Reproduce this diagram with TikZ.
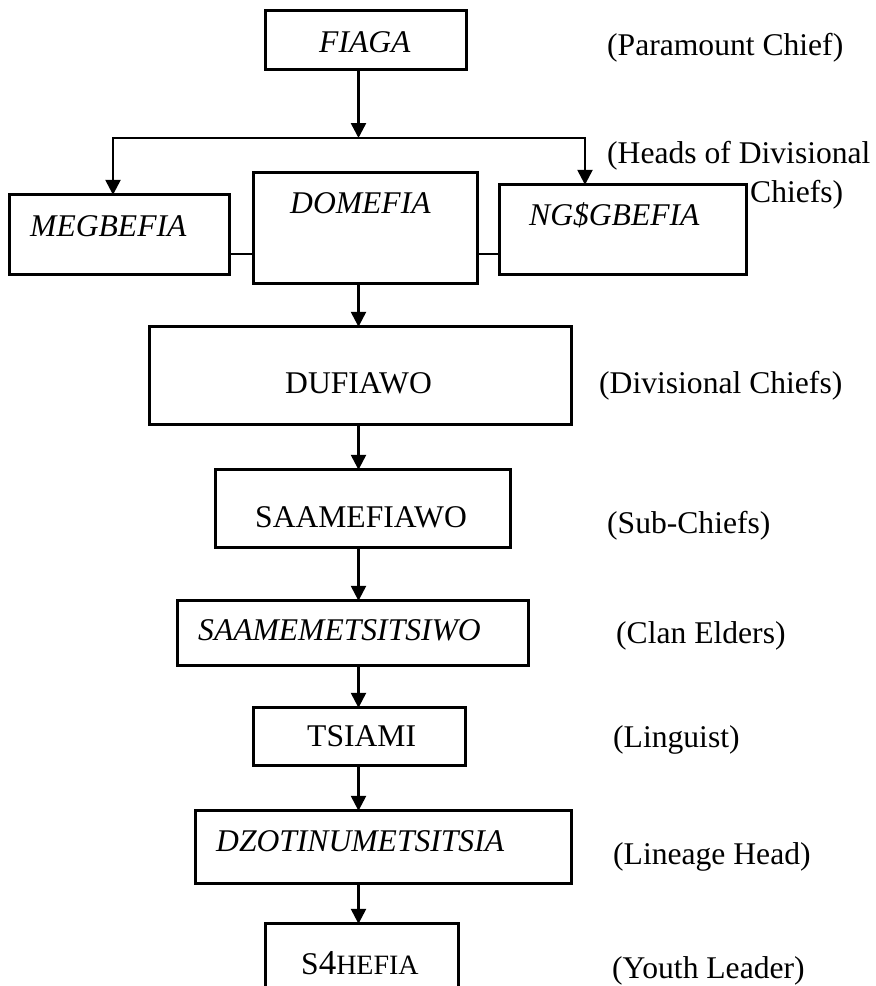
\documentclass[tikz,border=0pt]{standalone}
\usepackage{fontspec}
\setmainfont{Liberation Serif}
\usetikzlibrary{arrows.meta}
\begin{document}
\begin{tikzpicture}[x=1pt,y=-1pt,
  every node/.style={font=\fontsize{31.6}{38}\selectfont},
  place/.style={inner sep=0pt, minimum width=#1},
  place/.default=100pt,
  frame/.style={draw=black, line width=2.7pt},
  txt/.style={inner sep=0pt, anchor=base west},
  link/.style={line width=2.5pt},
  tip/.tip={Triangle[length=15pt,width=15pt]},
  arr/.style={line width=2.5pt, -tip},
  arrboth/.style={line width=2.5pt, tip-tip}]
\useasboundingbox (0,0) rectangle (876,986);
\clip (0,0) rectangle (876,986);

% boxes of the hierarchy
\node[place=200pt, minimum height=58pt] (fiaga) at (366,40) {};
\node[place=219pt, minimum height=79pt] (meg) at (119.5,234.5) {};
\node[place=223pt, minimum height=110pt] (dom) at (365.5,228) {};
\node[place=246pt, minimum height=89pt] (ngo) at (623,229.5) {};
\node[place=421pt, minimum height=97pt] (duf) at (360.5,375.5) {};
\node[place=294pt, minimum height=77pt] (sub) at (363,508.5) {};
\node[place=350.5pt, minimum height=64pt] (clan) at (353.25,633) {};
\node[place=211pt, minimum height=57pt] (tsi) at (359.5,736.5) {};
\node[place=375pt, minimum height=72pt] (dzo) at (383.5,847) {};
\node[place=192pt, minimum height=76pt] (yth) at (362,962) {};
\foreach \b in {fiaga,meg,dom,ngo,duf,sub,clan,tsi,dzo,yth}
  \draw[frame] (\b.south west) rectangle (\b.north east);

% texts inside the boxes
\node[txt] (t-fiaga) at (319,52) {\textit{FIAGA}};
\node[txt] (t-meg) at (30,236) {\textit{MEGBEFIA}};
\node[txt] (t-dom) at (290,213) {\textit{DOMEFIA}};
\node[txt] (t-ngo) at (529,225) {\textit{NG\$GBEFIA}};
\node[txt] (t-duf) at (285,393) {DUFIAWO};
\node[txt] (t-sub) at (255,527) {SAAMEFIAWO};
\node[txt] (t-clan) at (198,640) {\textit{SAAMEMETSITSIWO}};
\node[txt] (t-tsi) at (307,746) {TSIAMI};
\node[txt] (t-dzo) at (216,851) {\textit{DZOTINUMETSITSIA}};
\node[txt] (t-yth) at (301,974) {S{\fontsize{35}{40}\selectfont 4}{\fontsize{28}{32}\selectfont HEFIA}};

% English glosses on the right
\node[txt] (g-para) at (607,55) {(Paramount Chief)};
\node[txt] (g-heads) at (607,163) {(Heads of Divisional};
\node[txt] (g-heads2) at (750,202) {Chiefs)};
\node[txt] (g-div) at (599,393) {(Divisional Chiefs)};
\node[txt] (g-sub) at (607,533) {(Sub-Chiefs)};
\node[txt] (g-clan) at (616,643) {(Clan Elders)};
\node[txt] (g-ling) at (613,747) {(Linguist)};
\node[txt] (g-lin) at (613,864) {(Lineage Head)};
\node[txt] (g-yth) at (612,978) {(Youth Leader)};

% connectors
\coordinate (trunk) at (358.5,0);
\coordinate (busl) at (113,138);
\coordinate (busr) at (585,138);
\draw[arr] (trunk |- fiaga.south) -- (trunk |- busl);
\draw[arrboth] (busl |- meg.north) -- (busl) -- (busr) -- (busr |- ngo.north);
\draw[link] (meg.east |- 0,254) -- (dom.west |- 0,254);
\draw[link] (dom.east |- 0,254) -- (ngo.west |- 0,254);
\draw[arr] (trunk |- dom.south) -- (trunk |- duf.north);
\draw[arr] (trunk |- duf.south) -- (trunk |- sub.north);
\draw[arr] (trunk |- sub.south) -- (trunk |- clan.north);
\draw[arr] (trunk |- clan.south) -- (trunk |- tsi.north);
\draw[arr] (trunk |- tsi.south) -- (trunk |- dzo.north);
\draw[arr] (trunk |- dzo.south) -- (trunk |- yth.north);
\end{tikzpicture}
\end{document}
